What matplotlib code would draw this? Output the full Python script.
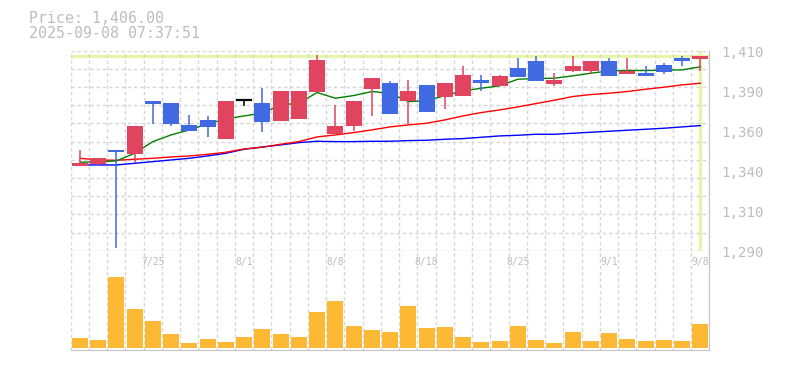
import matplotlib
matplotlib.use('Agg')
import matplotlib.pyplot as plt
import matplotlib.transforms as mtransforms
import numpy as np

# daily candles, 2025-07-18 .. 2025-09-08
dates = ['7/18', '7/22', '7/23', '7/24', '7/25', '7/28', '7/29', '7/30', '7/31', '8/1',
         '8/4', '8/5', '8/6', '8/7', '8/8', '8/12', '8/13', '8/14', '8/15', '8/18',
         '8/19', '8/20', '8/21', '8/22', '8/25', '8/26', '8/27', '8/28', '8/29', '9/1',
         '9/2', '9/3', '9/4', '9/5', '9/8']
label_dates = ['7/25', '8/1', '8/8', '8/18', '8/25', '9/1', '9/8']

open_ = [1341.0, 1342.2, 1350.4, 1348.2, 1379.8, 1378.6, 1365.4, 1368.4, 1357.2, 1380.4,
         1378.6, 1368.0, 1369.2, 1385.4, 1360.0, 1365.0, 1387.2, 1390.6, 1380.0, 1389.4,
         1382.4, 1383.0, 1392.4, 1389.0, 1399.6, 1403.8, 1390.0, 1397.8, 1398.0, 1403.8,
         1396.0, 1396.6, 1401.4, 1405.6, 1405.0]
close = [1342.8, 1345.6, 1349.4, 1364.8, 1378.2, 1366.2, 1362.0, 1364.4, 1379.8, 1380.4,
         1367.4, 1385.8, 1385.8, 1404.4, 1364.8, 1379.8, 1393.6, 1372.0, 1385.8, 1373.4,
         1390.6, 1395.4, 1390.4, 1394.8, 1394.2, 1392.0, 1392.6, 1400.8, 1403.8, 1394.8,
         1397.8, 1394.8, 1397.2, 1404.0, 1406.8]
high = [1350.4, 1345.6, 1350.4, 1364.8, 1379.8, 1378.6, 1371.4, 1371.0, 1379.8, 1380.4,
        1387.8, 1385.8, 1385.8, 1407.4, 1377.4, 1379.8, 1393.6, 1391.8, 1392.6, 1389.4,
        1390.6, 1400.6, 1395.4, 1395.4, 1405.4, 1406.8, 1396.6, 1406.8, 1403.8, 1405.6,
        1405.6, 1400.8, 1402.6, 1406.8, 1406.8]
low = [1341.0, 1341.0, 1291.5, 1342.4, 1366.2, 1365.0, 1362.0, 1358.4, 1357.2, 1377.0,
       1361.4, 1368.0, 1369.2, 1385.4, 1360.0, 1361.8, 1371.0, 1372.0, 1366.2, 1373.4,
       1375.2, 1383.0, 1386.0, 1389.0, 1394.2, 1392.0, 1389.0, 1397.4, 1396.2, 1394.8,
       1396.0, 1394.8, 1396.0, 1401.0, 1397.8]

# moving averages (short / mid / long)
ma_short = [1343.0, 1343.4, 1343.8, 1348.4, 1355.4, 1359.4, 1362.4, 1366.0, 1369.0, 1370.8,
            1372.4, 1377.4, 1378.4, 1384.8, 1381.4, 1383.0, 1385.4, 1384.4, 1379.4, 1379.8,
            1383.0, 1385.8, 1387.4, 1388.8, 1392.8, 1393.2, 1393.4, 1394.8, 1396.4, 1397.8,
            1398.0, 1398.0, 1398.2, 1398.4, 1400.2]
ma_mid = [1345.4, 1344.4, 1344.2, 1344.8, 1345.4, 1346.2, 1346.8, 1347.8, 1349.0, 1351.0,
          1352.0, 1353.8, 1355.4, 1358.2, 1359.4, 1360.8, 1362.4, 1364.2, 1365.4, 1366.4,
          1368.4, 1370.8, 1372.8, 1374.4, 1376.2, 1378.2, 1380.2, 1382.4, 1383.6, 1384.4,
          1385.4, 1386.8, 1388.0, 1389.4, 1390.4]
ma_long = [1341.4, 1341.4, 1341.4, 1342.4, 1343.4, 1344.4, 1345.4, 1346.8, 1348.4, 1350.8,
           1352.2, 1353.4, 1354.8, 1355.6, 1355.4, 1355.4, 1355.6, 1355.6, 1356.0, 1356.2,
           1356.8, 1357.2, 1358.0, 1358.8, 1359.2, 1359.8, 1359.8, 1360.4, 1361.0, 1361.6,
           1362.2, 1362.8, 1363.4, 1364.2, 1365.0]

# volume (thousand shares)
volume = [10, 8, 71, 39, 27, 14, 5, 9, 6, 11, 19, 14, 11, 36, 47, 22, 18, 16, 42, 20,
          21, 11, 6, 7, 22, 8, 5, 16, 7, 15, 9, 7, 8, 7, 24]

price_ticks = [1410, 1386, 1362, 1338, 1314, 1290]
price_tick_labels = ['1,410', '1,390', '1,360', '1,340', '1,310', '1,290']
last_price = 1406.8

UP = '#e0445f'
DOWN = '#4169e1'
GRID = '#d6d6d6'
TXT = '#bdbdbd'
HILITE = '#e6f5a8'
FONT = 'DejaVu Sans Mono'

fig = plt.figure(figsize=(7.85, 3.70), dpi=100)
ax = fig.add_axes([0.0901, 0.3224, 0.8137, 0.5411])
axv = fig.add_axes([0.0901, 0.0541, 0.8137, 0.2683], sharex=ax)

x = np.arange(len(dates))
o = np.array(open_)
c = np.array(close)

# price panel
ax.set_xlim(-0.5, len(dates) - 0.5)
ax.set_ylim(1290, 1410)
ax.set_xticks(np.arange(-0.5, len(dates)), minor=True)
ax.set_yticks(np.linspace(1290, 1410, 12), minor=True)
ax.set_xticks([])
ax.set_yticks([])
ax.grid(which='minor', color=GRID, linestyle=(0, (2.5, 2)), linewidth=1)
ax.tick_params(which='both', length=0, labelbottom=False, labelleft=False)

ax.axhline(last_price, color=HILITE, lw=2.4, zorder=1)
ax.axvline(x[-1], color=HILITE, lw=2.4, zorder=1)

ax.plot(x, ma_long, color='#0000ff', lw=1.0, zorder=2)
ax.plot(x, ma_mid, color='#ff0000', lw=1.0, zorder=2)
ax.plot(x, ma_short, color='#008000', lw=1.0, zorder=2)

colors = np.where(c > o, UP, np.where(c < o, DOWN, 'black'))
ax.vlines(x, low, high, colors=colors, lw=1.1, zorder=3)
ax.bar(x, np.abs(c - o), bottom=np.minimum(o, c), width=0.88, color=colors, zorder=4)
doji = c == o
ax.hlines(c[doji], x[doji] - 0.44, x[doji] + 0.44, colors='black', lw=1.6, zorder=4)

for s in ['top', 'left']:
    ax.spines[s].set_visible(False)
for s in ['right', 'bottom']:
    ax.spines[s].set_color('#c4c4c4')

lab_tr = mtransforms.offset_copy(ax.get_yaxis_transform(), fig=fig, x=0, y=-2.3, units='dots')
for t, lab in zip(price_ticks, price_tick_labels):
    ax.text(1.018, t, lab, transform=lab_tr, ha='left', va='center',
            fontsize=10.2, color=TXT, family=FONT)

# volume panel
axv.bar(x, volume, width=0.88, color='#fdb934', zorder=2)
axv.set_ylim(-2, 97.3)
axv.set_xticks(np.arange(-0.5, len(dates)), minor=True)
axv.set_yticks([])
axv.grid(which='minor', axis='x', color=GRID, linestyle=(0, (2.5, 2)), linewidth=1)
axv.tick_params(which='both', length=0, labelbottom=False, labelleft=False)
for s in ['top', 'left']:
    axv.spines[s].set_visible(False)
for s in ['right', 'bottom']:
    axv.spines[s].set_color('#c4c4c4')

for d in label_dates:
    axv.text(dates.index(d), 0.886, d, transform=axv.get_xaxis_transform(),
             ha='center', va='center', fontsize=7, color=TXT, family=FONT)

fig.text(0.0373, 0.937, 'Price: 1,406.00', fontsize=10.7, color=TXT, family=FONT,
         va='baseline')
fig.text(0.0373, 0.8965, '2025-09-08 07:37:51', fontsize=10.7, color=TXT, family=FONT,
         va='baseline')

fig.savefig('out.png', dpi=100)
